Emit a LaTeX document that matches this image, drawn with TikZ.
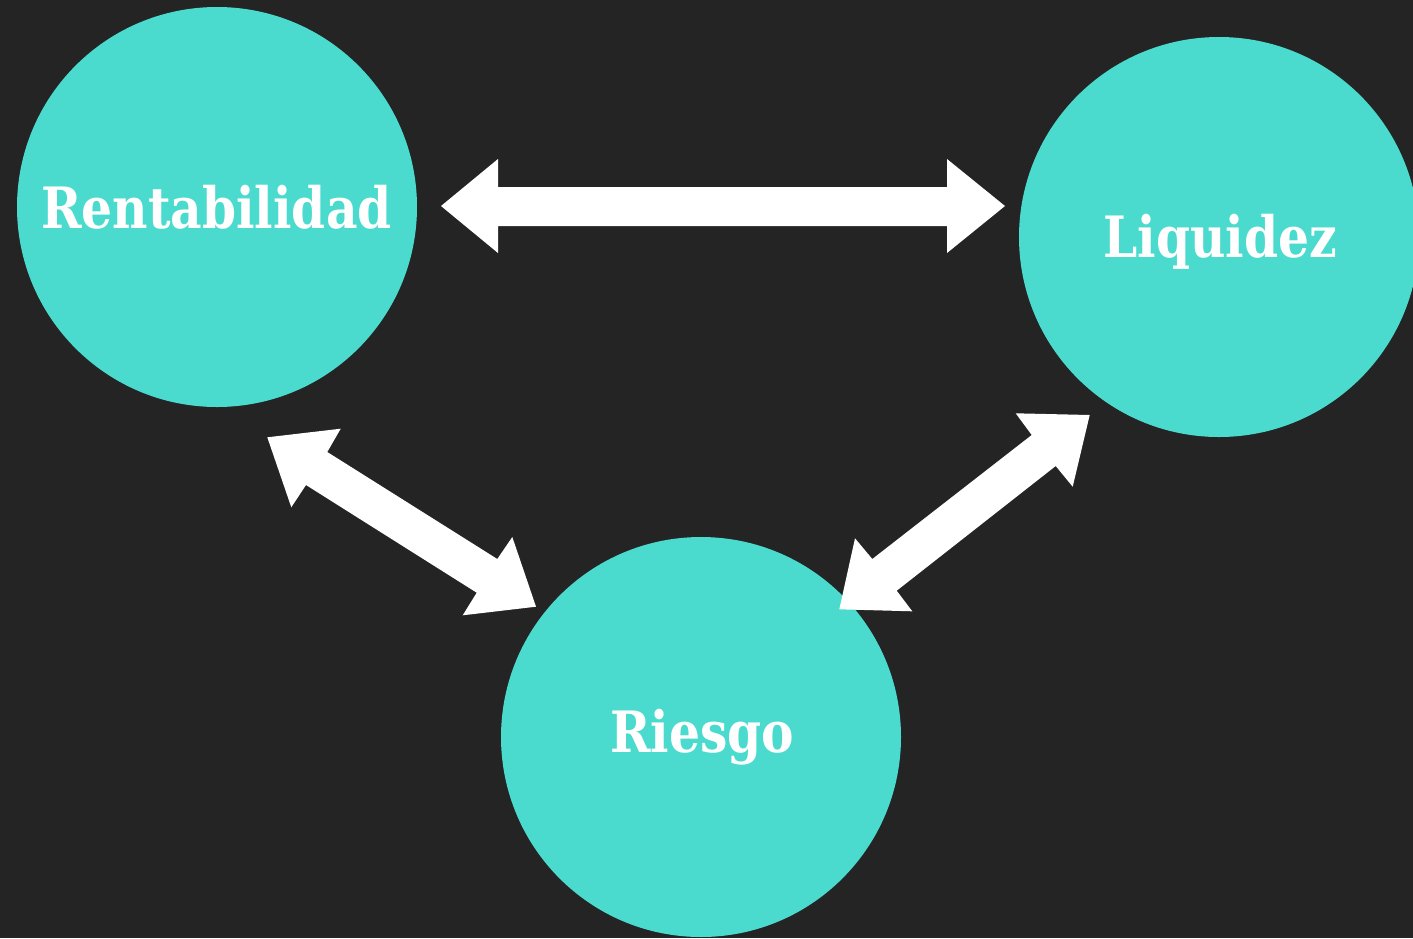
\documentclass[tikz,border=0pt]{standalone}
\usepackage{fontspec}
\newfontfamily\lblfont{DejaVu Serif Condensed}[BoldFont={DejaVu Serif Condensed Bold}, FakeStretch=0.95]
\definecolor{bg}{HTML}{242424}
\definecolor{teal}{HTML}{4ADBCE}
\begin{document}
\begin{tikzpicture}[x=1pt,y=-1pt,
  ball/.style={circle, fill=teal, draw=none, minimum size=400pt, inner sep=0pt},
  lbl/.style={text=white, font=\lblfont\bfseries\fontsize{57}{60}\selectfont, anchor=base, inner sep=0pt},
  blockarrow/.style={fill=white, draw=none}]
\fill[bg] (0,0) rectangle (1413,938);
\useasboundingbox (0,0) rectangle (1413,938);
\node[ball] (rent) at (217,207) {};
\node[ball] (liq) at (1219,237) {};
\node[ball] (ries) at (701,737) {};
\node[lbl] (trent) at (216.5,228) {Rentabilidad};
\node[lbl] (tliq) at (1220,257) {Liquidez};
\node[lbl] (tries) at (702,752) {Riesgo};
% horizontal double arrow
\fill[blockarrow] (441,206) -- (498,159) -- (498,187) -- (947,187) -- (947,159) -- (1005,206)
  -- (947,253) -- (947,226) -- (498,226) -- (498,253) -- cycle;
% left diagonal double arrow
\fill[blockarrow] (267.3,437.3) -- (340.7,428.7) -- (327.3,452) -- (497.3,559) -- (512.3,537)
  -- (536,606.7) -- (462.7,615.3) -- (476.7,592.7) -- (306,485) -- (291.3,507.3) -- cycle;
% right diagonal double arrow
\fill[blockarrow] (1089.7,415) -- (1072.7,486.7) -- (1055.7,466) -- (896.7,590.7) -- (912.3,611.3)
  -- (839.3,609.3) -- (855,538.3) -- (872.3,559) -- (1031.7,435) -- (1015.7,413.3) -- cycle;
\end{tikzpicture}
\end{document}
